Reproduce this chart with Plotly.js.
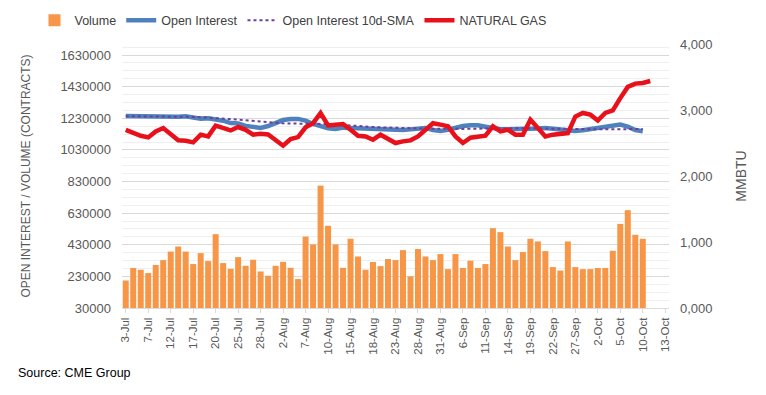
<!DOCTYPE html>
<html>
<head>
<meta charset="utf-8">
<script src="https://cdn.plot.ly/plotly-3.0.1.min.js"></script>
<style>html,body{margin:0;padding:0;background:#fff;}#chart{width:766px;height:395px;}</style>
</head>
<body>
<div id="chart"></div>
<script>
const dates = [
 "3-Jul","5-Jul","6-Jul","7-Jul","10-Jul","11-Jul","12-Jul","13-Jul","14-Jul","17-Jul",
 "18-Jul","19-Jul","20-Jul","21-Jul","24-Jul","25-Jul","26-Jul","27-Jul","28-Jul","31-Jul",
 "1-Aug","2-Aug","3-Aug","4-Aug","7-Aug","8-Aug","9-Aug","10-Aug","11-Aug","14-Aug",
 "15-Aug","16-Aug","17-Aug","18-Aug","21-Aug","22-Aug","23-Aug","24-Aug","25-Aug","28-Aug",
 "29-Aug","30-Aug","31-Aug","1-Sep","5-Sep","6-Sep","7-Sep","8-Sep","11-Sep","12-Sep",
 "13-Sep","14-Sep","15-Sep","18-Sep","19-Sep","20-Sep","21-Sep","22-Sep","25-Sep","26-Sep",
 "27-Sep","28-Sep","29-Sep","2-Oct","3-Oct","4-Oct","5-Oct","6-Oct","9-Oct","10-Oct",
 "11-Oct","12-Oct","13-Oct"];
const tickLabels = ["3-Jul","7-Jul","12-Jul","17-Jul","20-Jul","25-Jul","28-Jul","2-Aug","7-Aug","10-Aug",
 "15-Aug","18-Aug","23-Aug","28-Aug","31-Aug","6-Sep","11-Sep","14-Sep","19-Sep","22-Sep",
 "27-Sep","2-Oct","5-Oct","10-Oct","13-Oct"];
const volume = [204000,283000,272000,251000,302000,333000,387000,419000,387000,308000,
 377000,327000,497000,314000,278000,352000,297000,335000,261000,234000,
 297000,322000,284000,213000,482000,432000,804000,550000,432000,284000,
 468000,356000,272000,321000,295000,340000,333000,396000,230000,403000,
 356000,333000,371000,276000,371000,283000,329000,283000,308000,535000,
 510000,419000,333000,384000,468000,451000,390000,289000,267000,451000,
 289000,276000,276000,283000,283000,392000,562000,649000,493000,468000];
const openInterest = [1245000,1244000,1240000,1246000,1241000,1240000,1239000,1240000,1243000,1235000,
 1228000,1230000,1226000,1215000,1200000,1198000,1182000,1173000,1169000,1181000,
 1198000,1219000,1226000,1226000,1215000,1194000,1181000,1167000,1163000,1171000,
 1169000,1167000,1167000,1165000,1163000,1163000,1163000,1156000,1160000,1165000,
 1169000,1156000,1150000,1158000,1170000,1181000,1186000,1186000,1177000,1167000,
 1161000,1161000,1161000,1161000,1161000,1165000,1169000,1165000,1161000,1150000,
 1150000,1154000,1161000,1165000,1169000,1177000,1190000,1177000,1156000,1148000];
const oiSMA = [1243000,1243000,1242000,1242000,1242000,1241000,1241000,1240000,1240000,1239000,
 1237000,1235000,1232000,1228000,1225000,1221000,1217000,1212000,1207000,1203000,
 1200000,1198000,1197000,1197000,1197000,1197000,1196000,1194000,1191000,1187000,
 1183000,1180000,1177000,1175000,1173000,1171000,1169000,1167000,1166000,1165000,
 1165000,1164000,1163000,1162000,1162000,1163000,1164000,1165000,1166000,1167000,
 1168000,1168000,1168000,1167000,1166000,1165000,1164000,1164000,1164000,1163000,
 1162000,1161000,1160000,1160000,1160000,1161000,1162000,1163000,1163000,1162000];
const naturalGas = [2.70,2.65,2.61,2.585,2.676,2.727,2.626,2.54,2.535,2.51,
 2.626,2.60,2.762,2.727,2.69,2.742,2.70,2.626,2.64,2.63,
 2.55,2.459,2.56,2.59,2.737,2.80,2.955,2.767,2.778,2.788,
 2.70,2.61,2.60,2.55,2.626,2.56,2.50,2.525,2.54,2.60,
 2.70,2.80,2.778,2.755,2.60,2.50,2.58,2.60,2.61,2.752,
 2.676,2.70,2.626,2.626,2.853,2.727,2.60,2.626,2.636,2.65,
 2.90,2.955,2.93,2.84,2.955,2.995,3.18,3.35,3.40,3.41,3.44];
const rightTicks = [0,1,2,3,4];
const rightTickText = ["0,000","1,000","2,000","3,000","4,000"];

const FONT = "Liberation Sans, Arial, sans-serif";
const GRAY = "#595959";

const traces = [
 {type:"bar", name:"Volume", x:dates.slice(0, volume.length), y:volume,
  marker:{color:"#F79646"}, yaxis:"y"},
 {type:"scatter", mode:"lines", name:"Open Interest", x:dates.slice(0, openInterest.length), y:openInterest,
  line:{color:"#4F81BD", width:4.5}, yaxis:"y"},
 {type:"scatter", mode:"lines", name:"Open Interest 10d-SMA", x:dates.slice(0, oiSMA.length), y:oiSMA,
  line:{color:"#6B3FA0", width:2, dash:"dot"}, yaxis:"y"},
 {type:"scatter", mode:"lines", name:"NATURAL GAS", x:dates.slice(0, naturalGas.length), y:naturalGas,
  line:{color:"#E8101A", width:4.5}, yaxis:"y2"}
];

const layout = {
 width:766, height:395,
 margin:{l:122, r:97, t:44, b:87, autoexpand:false},
 paper_bgcolor:"#fff", plot_bgcolor:"#fff",
 font:{family:FONT, color:GRAY, size:13},
 bargap:0.2,
 showlegend:true,
 legend:{orientation:"h", xref:"paper", yref:"paper", x:-0.16, y:1.145, xanchor:"left", yanchor:"top",
  font:{family:FONT, size:12.5, color:"#404040"}, itemwidth:30, tracegroupgap:0, traceorder:"normal",
  bgcolor:"rgba(0,0,0,0)"},
 xaxis:{type:"category", categoryorder:"array", categoryarray:dates, range:[-0.5, dates.length-0.5],
  tickmode:"array", tickvals:tickLabels, ticktext:tickLabels, tickangle:-90,
  tickfont:{size:11.5, color:GRAY, family:FONT}, showgrid:false, zeroline:false,
  showline:true, linecolor:"#D9D9D9", linewidth:1, ticks:"outside", ticklen:4, tickcolor:"#D9D9D9"},
 yaxis:{range:[30000, 1700000], tick0:30000, dtick:200000, tickformat:"d",
  showgrid:true, gridcolor:"#D9D9D9", gridwidth:1, zeroline:false, showline:false,
  minor:{tick0:30000, dtick:50000, showgrid:true, gridcolor:"#EFEFEF", gridwidth:1},
  tickfont:{size:13, color:GRAY, family:FONT}, ticklabelstandoff:10,
  title:{text:"OPEN INTEREST / VOLUME (CONTRACTS)", font:{size:12, color:GRAY, family:FONT}, standoff:27}},
 yaxis2:{overlaying:"y", side:"right", range:[0,4], tickmode:"array", tickvals:rightTicks, ticktext:rightTickText,
  showgrid:false, zeroline:false, showline:false, tickfont:{size:13, color:GRAY, family:FONT}, ticklabelstandoff:10,
  title:{text:"MMBTU", font:{size:14, color:GRAY, family:FONT}, standoff:24}},
 annotations:[{text:"Source: CME Group", xref:"paper", yref:"paper", x:-0.193, y:-0.248, xanchor:"left", yanchor:"middle",
  showarrow:false, font:{size:12.5, color:"#000", family:FONT}}]
};

Plotly.newPlot("chart", traces, layout, {staticPlot:true, displayModeBar:false});
</script>
</body>
</html>
